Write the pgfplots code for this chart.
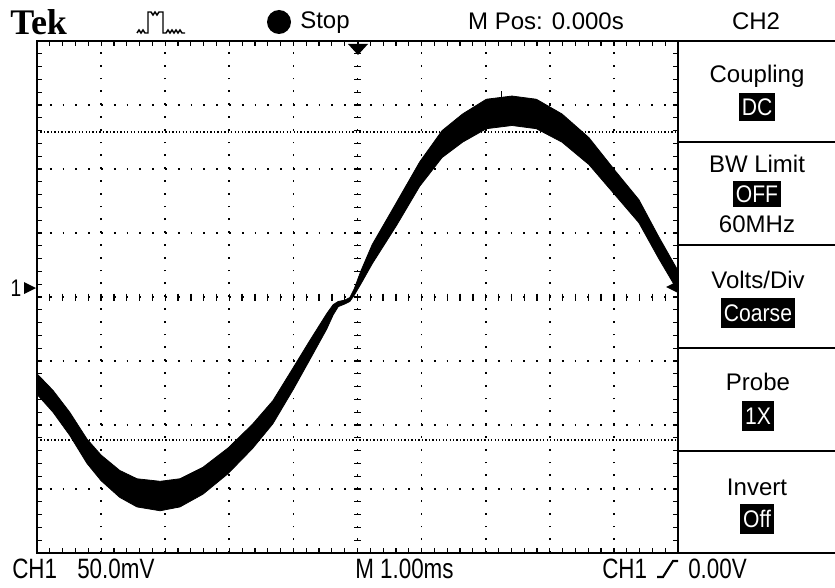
\documentclass[border=0pt]{standalone}
\usepackage{fontspec}
\setmainfont{Liberation Sans}
\newfontfamily\botfont{Liberation Sans}[FakeStretch=0.8]
\newfontfamily\boxfont{Liberation Sans}[FakeStretch=0.88]
\newfontfamily\tekfont{Liberation Serif}
\usepackage{pgfplots}
\pgfplotsset{compat=1.18}
\newcommand{\fs}{\fontsize{18pt}{20pt}\selectfont}
\newcommand{\bfs}{\fontsize{21pt}{22pt}\selectfont}
\begin{document}
\begin{tikzpicture}
\path[use as bounding box] (0,0) rectangle (626.25pt,-441pt);
\begin{axis}[
 at={(27.75pt,-414.75pt)}, anchor=south west,
 scale only axis, width=480.75pt, height=384pt,
 xmin=0,xmax=10,ymin=-4,ymax=4,
 xtick={0,...,10}, ytick={-4,...,4},
 minor x tick num=4, minor y tick num=4,
 xticklabels={}, yticklabels={},
 tick align=inside, major tick length=3.5pt, minor tick length=3.5pt,
 every tick/.append style={black, line width=0.9pt},
 axis line style={line width=1.5pt},
 grid=major,
 major grid style={black, line width=1.3pt, dash pattern=on 1.3pt off 8.3pt},
]
\addplot[black, line width=0.9pt, dash pattern=on 1pt off 1.6pt] coordinates {(0,2.578) (10,2.578)};
\addplot[black, line width=0.9pt, dash pattern=on 1pt off 1.6pt] coordinates {(0,-2.234) (10,-2.234)};
\addplot[fill=black, draw=black, line width=0.6pt, line join=round] coordinates {
(0.00,-1.20) (0.25,-1.46) (0.51,-1.80) (0.78,-2.22) (1.00,-2.47) (1.29,-2.71) (1.56,-2.84) (1.92,-2.88) (2.23,-2.84) (2.59,-2.66) (2.98,-2.36) (3.36,-1.99) (3.68,-1.62) (4.00,-1.10) (4.25,-0.69) (4.52,-0.26) (4.62,-0.12) (4.70,-0.07) (4.80,-0.05) (4.88,-0.01) (4.95,0.13) (5.05,0.40) (5.23,0.82) (5.61,1.48) (5.97,2.11) (6.32,2.60) (6.64,2.86) (7.01,3.09) (7.41,3.14) (7.79,3.09) (8.19,2.86) (8.61,2.49) (9.03,1.96) (9.39,1.52) (9.70,0.94) (10.0,0.41)
(10.0,0.09) (9.70,0.60) (9.39,1.16) (9.03,1.58) (8.61,2.07) (8.19,2.42) (7.79,2.63) (7.41,2.68) (7.01,2.63) (6.64,2.42) (6.32,2.18) (5.97,1.73) (5.61,1.12) (5.23,0.52) (5.05,0.20) (4.95,0.03) (4.88,-0.07) (4.80,-0.11) (4.70,-0.15) (4.62,-0.28) (4.52,-0.50) (4.25,-0.99) (4.00,-1.44) (3.68,-1.98) (3.36,-2.37) (2.98,-2.76) (2.59,-3.08) (2.23,-3.28) (1.92,-3.34) (1.56,-3.28) (1.29,-3.13) (1.00,-2.87) (0.78,-2.60) (0.51,-2.16) (0.25,-1.80) (0.00,-1.52)};
\addplot[black, line width=0.8pt] coordinates {(7.25,2.9) (7.25,3.22)};
\end{axis}
\begin{scope}[x=0.75pt,y=-0.75pt]
% centre graticule ticks
\foreach \k in {1,...,39} \draw[line width=1pt] (354,{41+\k*12.8}) -- (361,{41+\k*12.8});
\foreach \k in {1,...,49} \draw[line width=1pt] ({37+\k*12.82},293.5) -- ({37+\k*12.82},300.5);
% side panel lines
\draw[line width=1.5pt] (677,41) -- (835,41);
\draw[line width=1.5pt] (677,553) -- (835,553);
\foreach \y in {142,245,348,451} \draw[line width=1.3pt] (678,\y) -- (835,\y);
% top bar
\node[anchor=base west, inner sep=0, font={\tekfont\bfseries\fontsize{27pt}{28pt}\selectfont}] at (10,35) {Tek};
\draw[line width=1.1pt] (137,33) -- (139,30) -- (141,33) -- (143,30) -- (145,33) -- (148,33) -- (148,12) -- (151,12) -- (153,15) -- (155,12) -- (157,15) -- (159,12) -- (163,12) -- (163,33) -- (166,33) -- (168,30) -- (170,33) -- (172,30) -- (174,33) -- (176,30) -- (178,33) -- (180,30) -- (182,33) -- (185,33);
\fill (279,22) circle (12);
\node[anchor=base west, inner sep=0, font=\fs] at (300,29) {Stop};
\node[anchor=base, inner sep=0, font=\fs] at (546,30) {M Pos: 0.000s};
\node[anchor=base, inner sep=0, font=\fs] at (756,30) {CH2};
% panel
\node[anchor=base, inner sep=0, font=\fs] at (757,83) {Coupling};
\node[fill=black, text=white, inner xsep=2pt, inner ysep=0pt, minimum height=21pt, font={\boxfont\fs}] at (757,107) {DC};
\node[anchor=base, inner sep=0, font=\fs] at (757,172) {BW Limit};
\node[fill=black, text=white, inner xsep=2pt, inner ysep=0pt, minimum height=19pt, font={\boxfont\fs}] at (757,194) {OFF};
\node[anchor=base, inner sep=0, font=\fs] at (757,232) {60MHz};
\node[anchor=base, inner sep=0, font=\fs] at (758,288) {Volts/Div};
\node[fill=black, text=white, inner xsep=2pt, inner ysep=0pt, minimum height=22pt, font={\boxfont\fs}] at (758,313) {Coarse};
\node[anchor=base, inner sep=0, font=\fs] at (758,390) {Probe};
\node[fill=black, text=white, inner xsep=2pt, inner ysep=0pt, minimum height=23pt, font={\boxfont\fs}] at (758,416) {1X};
\node[anchor=base, inner sep=0, font=\fs] at (757,495) {Invert};
\node[fill=black, text=white, inner xsep=2pt, inner ysep=0pt, minimum height=23pt, font={\boxfont\fs}] at (757,519) {Off};
% bottom bar
\node[anchor=base west, inner sep=0, font={\botfont\bfs}] at (12,578) {CH1};
\node[anchor=base west, inner sep=0, font={\botfont\bfs}] at (77,578) {50.0mV};
\node[anchor=base west, inner sep=0, font={\botfont\bfs}] at (355,578) {M 1.00ms};
\node[anchor=base west, inner sep=0, font={\botfont\bfs}] at (602,578) {CH1};
\draw[line width=1.6pt] (657,577) -- (663,577) -- (673,561) -- (678,561);
\node[anchor=base west, inner sep=0, font={\botfont\bfs}] at (688,578) {0.00V};
% markers
\node[anchor=base, inner sep=0, font={\botfont\fontsize{18pt}{19pt}\selectfont}] at (16,296) {1};
\fill (24,282) -- (36,288) -- (24,294) -- cycle;
\fill (666,287) -- (678,281) -- (678,293) -- cycle;
\fill (348,44) -- (368,44) -- (358,55) -- cycle;
\draw[line width=1pt] (358,41) -- (358,46);
\end{scope}
\end{tikzpicture}
\end{document}
